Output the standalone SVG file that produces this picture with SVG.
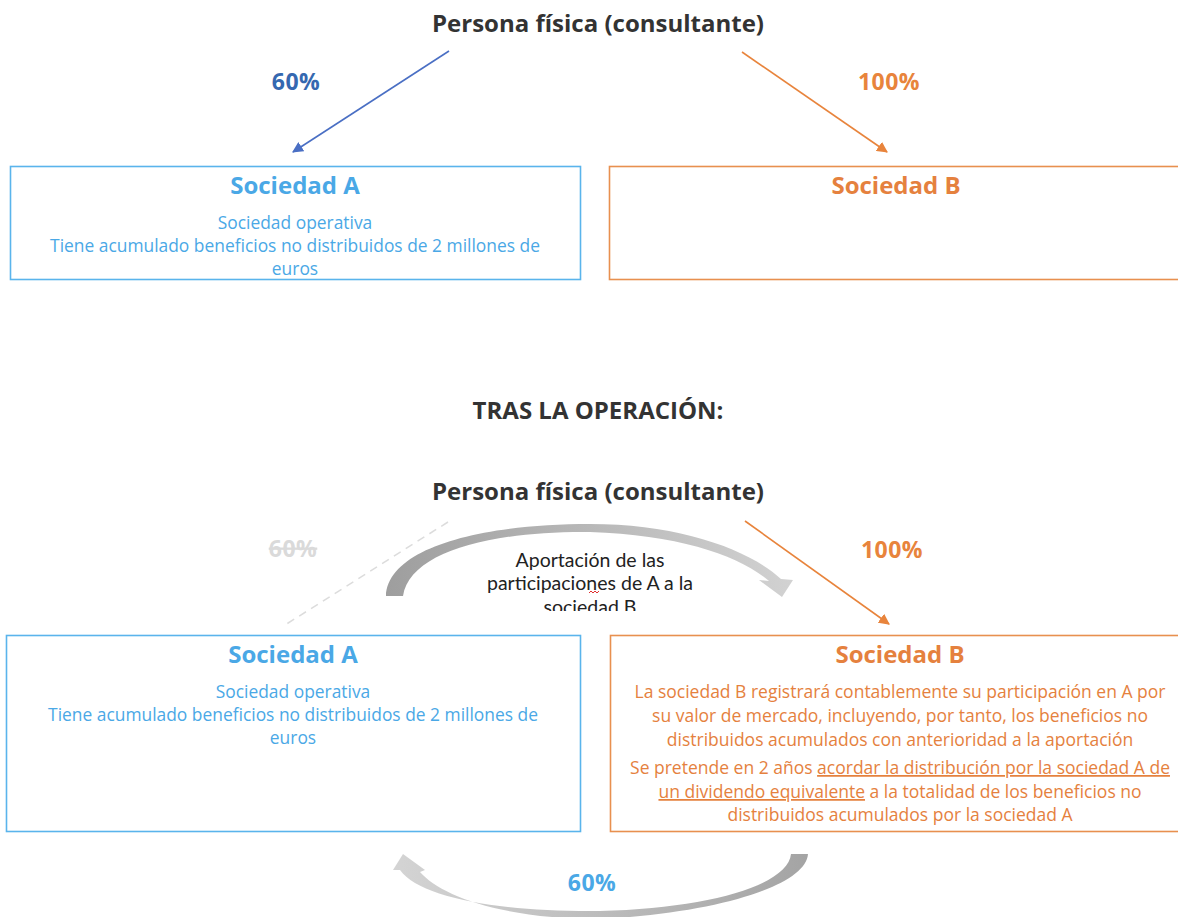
<svg xmlns="http://www.w3.org/2000/svg" width="1178" height="917" viewBox="0 0 1178 917">
<style>
text{font-family:"Open Sans",Lato,"Liberation Sans",sans-serif;text-anchor:middle}
.title{font-size:24px;font-weight:bold;fill:#333}
.pct{font-size:23px;font-weight:bold;letter-spacing:0.5px}
.hA{font-size:24px;font-weight:bold;fill:#4aa8e6}
.hB{font-size:24px;font-weight:bold;fill:#e5813e}
.tA{font-size:17.4px;fill:#4aa8e6}
.tB{font-size:17.5px;fill:#e5813e}
.boxA{fill:#fff;stroke:#5ab4ec;stroke-width:1.6}
.boxB{fill:#fff;stroke:#e8904f;stroke-width:1.6}
.cap{font-family:Lato,"Open Sans",sans-serif;font-size:19.5px;fill:#222}
</style>
<defs>
<marker id="arB" viewBox="0 0 10 10" refX="9" refY="5" markerWidth="11" markerHeight="11" markerUnits="userSpaceOnUse" orient="auto"><path d="M0,0 L10,5 L0,10 Z" fill="#4a6fc4"/></marker>
<marker id="arO" viewBox="0 0 10 10" refX="9" refY="5" markerWidth="11" markerHeight="11" markerUnits="userSpaceOnUse" orient="auto"><path d="M0,0 L10,5 L0,10 Z" fill="#e8843c"/></marker>
<linearGradient id="gTop" x1="386" y1="0" x2="793" y2="0" gradientUnits="userSpaceOnUse"><stop offset="0" stop-color="#9e9e9e"/><stop offset="1" stop-color="#d2d2d2"/></linearGradient>
<linearGradient id="gBot" x1="808" y1="0" x2="393" y2="0" gradientUnits="userSpaceOnUse"><stop offset="0" stop-color="#a4a4a4"/><stop offset="1" stop-color="#d4d4d4"/></linearGradient>
<clipPath id="capClip"><rect x="400" y="540" width="400" height="71"/></clipPath>
</defs>

<g id="title1"><text class="title" x="598" y="32">Persona física (consultante)</text></g>

<g id="nodeA1">
<rect class="boxA" x="10.5" y="166.5" width="570" height="113"/>
<text class="hA" x="295" y="194">Sociedad A</text>
<text class="tA" x="295" y="229">Sociedad operativa</text>
<text class="tA" x="295" y="252">Tiene acumulado beneficios no distribuidos de 2 millones de</text>
<text class="tA" x="295" y="275">euros</text>
</g>

<g id="nodeB1">
<rect class="boxB" x="609.5" y="166.5" width="580" height="113"/>
<text class="hB" x="896" y="194">Sociedad B</text>
</g>

<g id="heading2"><text class="title" x="598" y="419">TRAS LA OPERACIÓN:</text></g>

<g id="title2"><text class="title" x="598" y="500">Persona física (consultante)</text></g>

<g id="nodeA2">
<rect class="boxA" x="6.5" y="635.5" width="574" height="196"/>
<text class="hA" x="293" y="663">Sociedad A</text>
<text class="tA" x="293" y="698">Sociedad operativa</text>
<text class="tA" x="293" y="721">Tiene acumulado beneficios no distribuidos de 2 millones de</text>
<text class="tA" x="293" y="744">euros</text>
</g>

<g id="nodeB2">
<rect class="boxB" x="610.5" y="635.5" width="580" height="196"/>
<text class="hB" x="900" y="663">Sociedad B</text>
<text class="tB" x="900" y="698">La sociedad B registrará contablemente su participación en A por</text>
<text class="tB" x="900" y="722">su valor de mercado, incluyendo, por tanto, los beneficios no</text>
<text class="tB" x="900" y="746">distribuidos acumulados con anterioridad a la aportación</text>
<text class="tB" x="900" y="774">Se pretende en 2 años <tspan text-decoration="underline">acordar la distribución por la sociedad A de</tspan></text>
<text class="tB" x="900" y="798"><tspan text-decoration="underline">un dividendo equivalente</tspan> a la totalidad de los beneficios no</text>
<text class="tB" x="900" y="821">distribuidos acumulados por la sociedad A</text>
</g>

<g id="connectors">
<line x1="449" y1="51" x2="293" y2="152" stroke="#4a6fc4" stroke-width="1.6" marker-end="url(#arB)"/>
<line x1="742" y1="52" x2="887" y2="152" stroke="#e8843c" stroke-width="1.6" marker-end="url(#arO)"/>
<line x1="448" y1="522" x2="285" y2="625" stroke="#dcdcdc" stroke-width="1.5" stroke-dasharray="8 6"/>
<line x1="745" y1="521" x2="889" y2="624" stroke="#e8843c" stroke-width="1.6" marker-end="url(#arO)"/>
<path d="M386,596 C388,548 480,524 590,524 C680,524 750,550 781,579 L793,580 L782,597 L759,580 L769,581 C740,556 680,535 590,532 C490,531 410,552 403,596 Z" fill="url(#gTop)"/>
<path d="M808,854 C806,885 720,913 600,919 C500,919 440,895 420,872 L425,870 L403,854 L393,870 L400,870 C420,898 500,912 600,911 C710,908 788,885 791,854 Z" fill="url(#gBot)"/>
</g>

<g id="labels">
<text class="pct" x="296" y="90" fill="#3568b0">60%</text>
<text class="pct" x="889" y="90" fill="#e8843c">100%</text>
<text class="pct" x="293" y="557" fill="#dadada" text-decoration="line-through" font-weight="normal">60%</text>
<text class="pct" x="892" y="558" fill="#e8843c">100%</text>
<text class="pct" x="592" y="891" fill="#4aa8e6">60%</text>
<g clip-path="url(#capClip)">
<text class="cap" x="590" y="566.5">Aportación de las</text>
<text class="cap" x="590" y="590">participaciones de A a la</text>
<text class="cap" x="590" y="613.5">sociedad B</text>
</g>
<path d="M589,593 l2,-2 l2,2 l2,-2 l2,2 l2,-2" fill="none" stroke="#e03030" stroke-width="1"/>
</g>
</svg>
